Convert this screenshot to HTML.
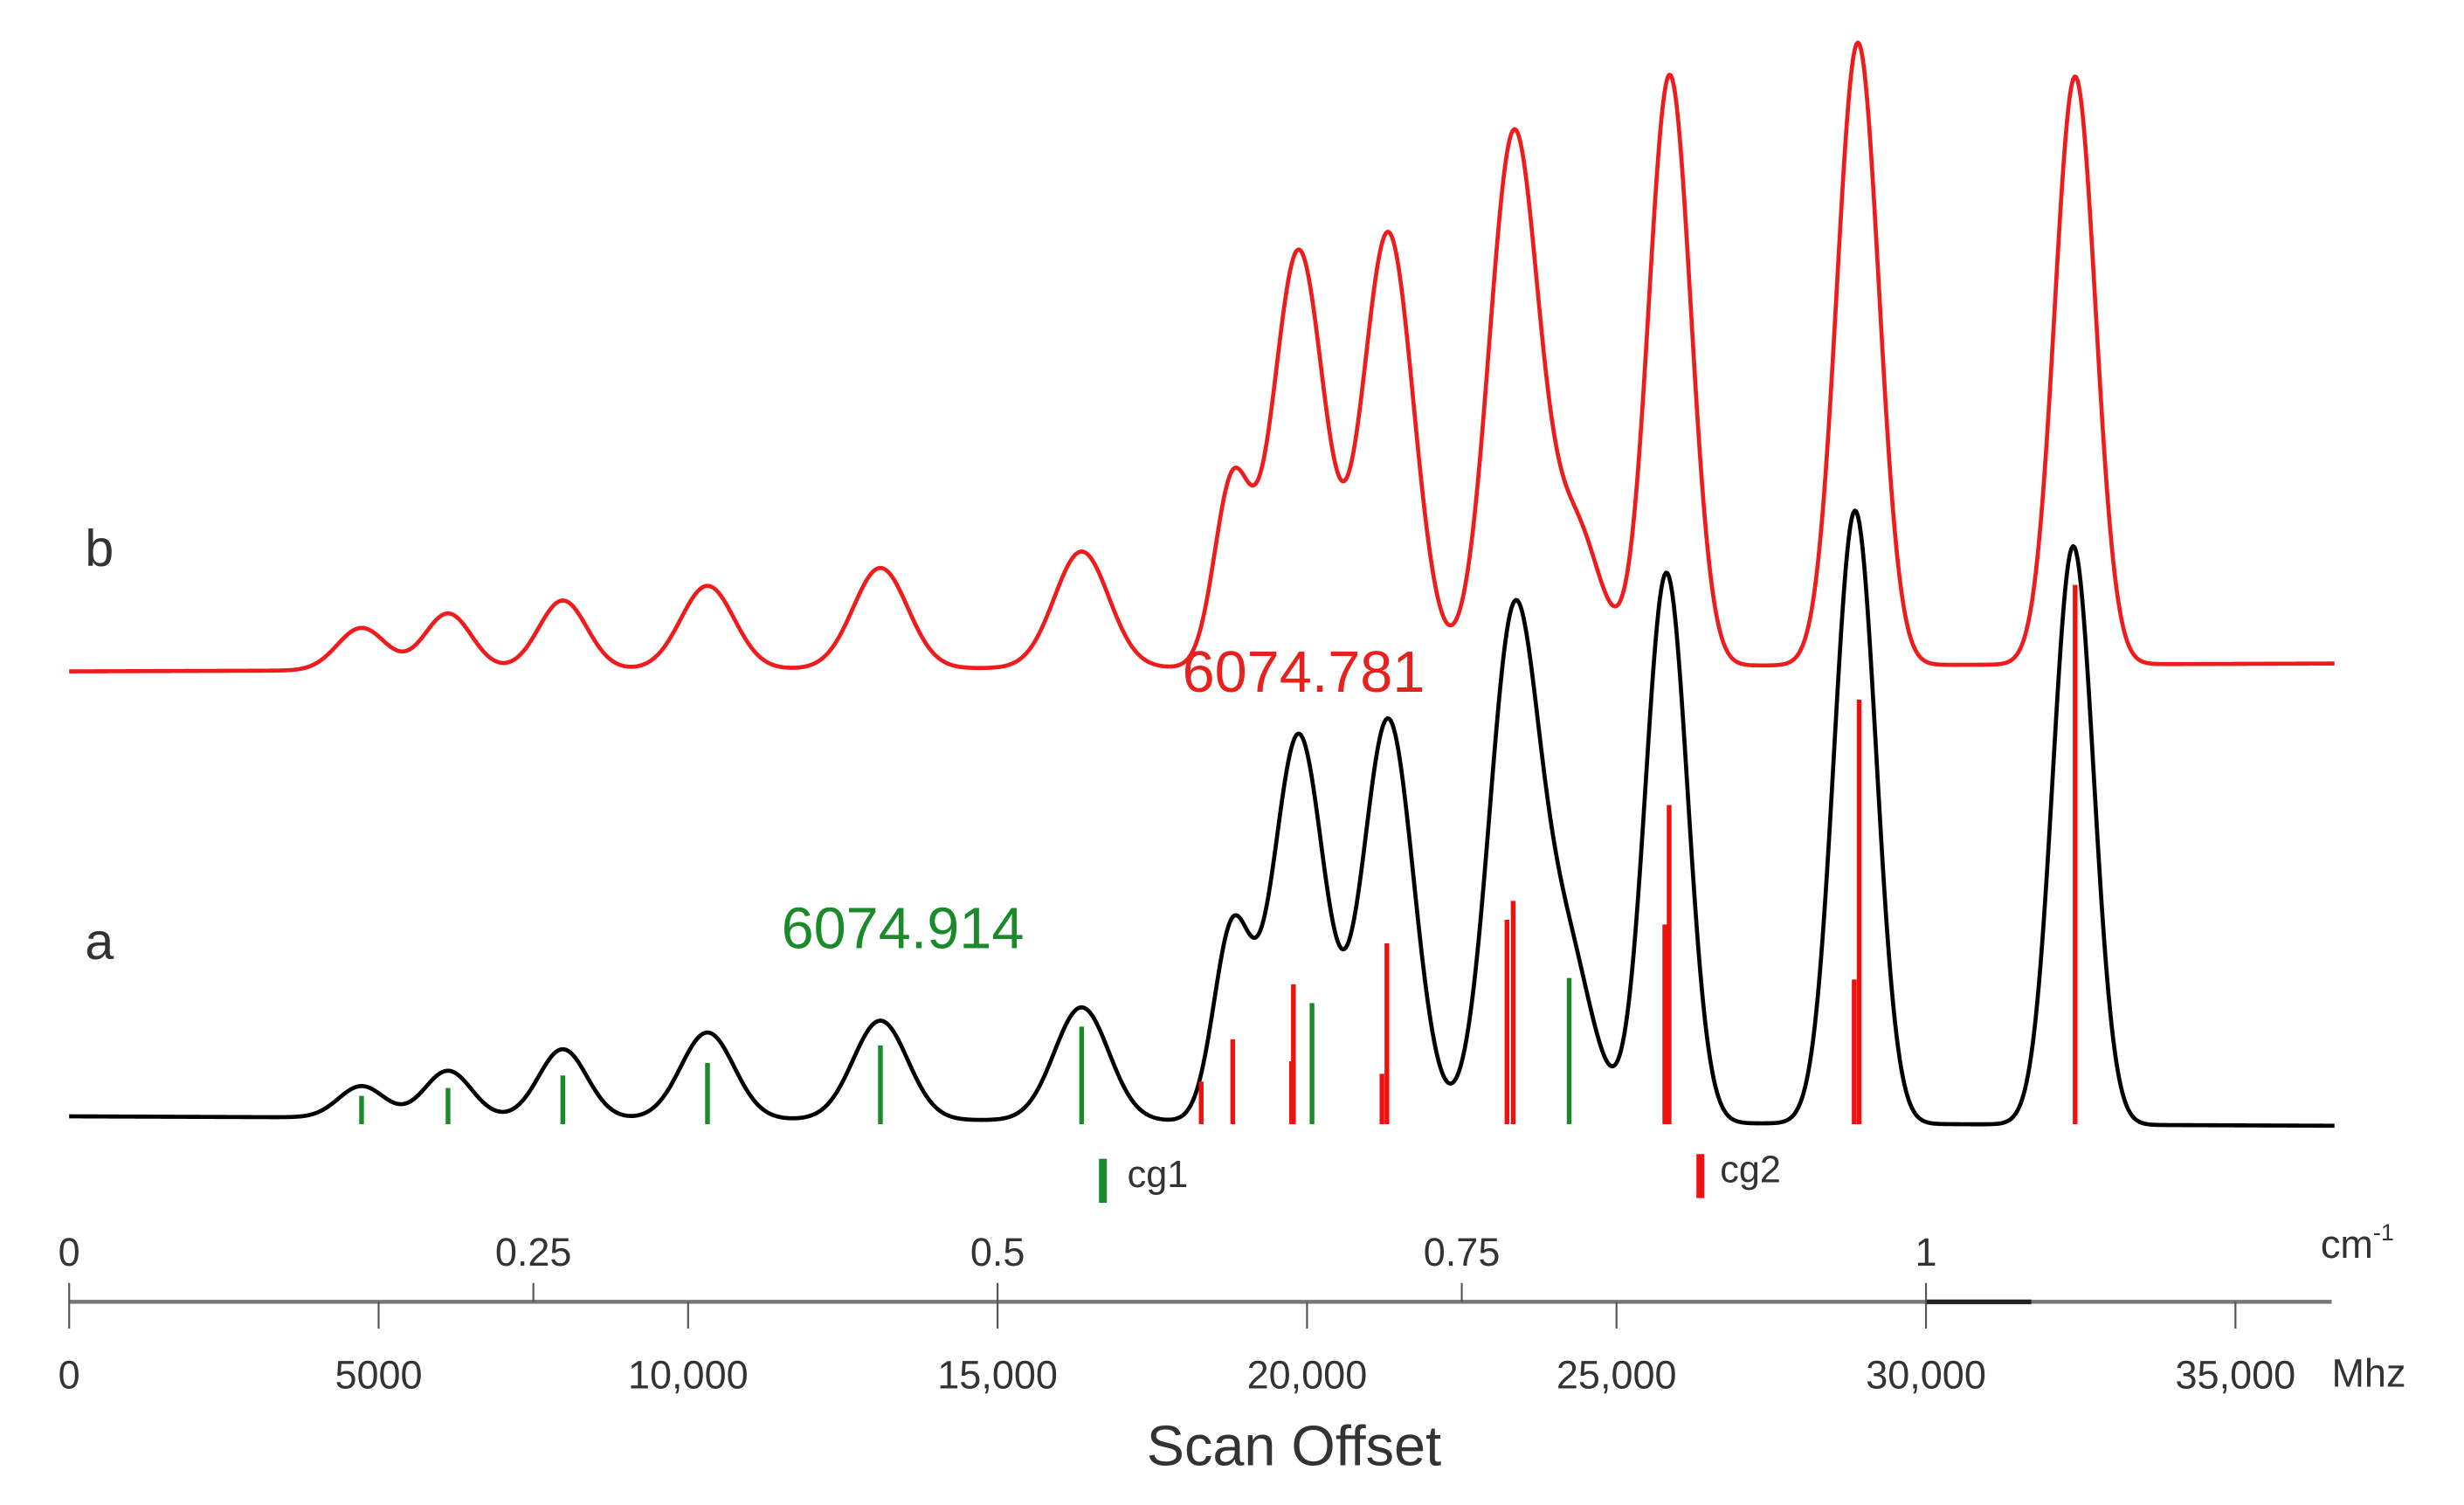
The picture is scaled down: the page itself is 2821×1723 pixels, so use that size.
<!DOCTYPE html>
<html><head><meta charset="utf-8">
<style>
html,body{margin:0;padding:0;background:#fff;}
svg{display:block;}
text{font-family:"Liberation Sans",Arial,sans-serif;}
</style></head>
<body>
<svg id="chart" width="2821" height="1723" viewBox="0 0 1567.2 957.2" xmlns="http://www.w3.org/2000/svg">
<rect width="1568" height="958" fill="#fff"/>
<g id="traces"></g>
<g id="sticks"></g>
<g id="axis"></g>
<text x="54" y="360" font-size="33" fill="#333">b</text>
<text x="54" y="610" font-size="33" fill="#333">a</text>
<text x="752" y="440" font-size="37" fill="#e8211d">6074.781</text>
<text x="497" y="603" font-size="37" fill="#1a8a2a">6074.914</text>
<rect x="699" y="737" width="5" height="28" fill="#1a8a2a"/>
<text x="717" y="755" font-size="24" fill="#333">cg1</text>
<rect x="1079" y="734" width="5" height="28" fill="#f01010"/>
<text x="1094" y="752" font-size="24" fill="#333">cg2</text>
<text x="823" y="932" font-size="36" fill="#333" text-anchor="middle">Scan Offset</text>
<text x="1476" y="800" font-size="25" fill="#333">cm<tspan dy="-11" font-size="15">-1</tspan></text>
<text x="1483" y="882" font-size="25" fill="#333">Mhz</text>
</svg>
<script>
// data (MHz offsets, intensities in arbitrary units)
const peakCentersB = [4724,6121,7976,10313,13107,16358,18790,19863,21311,23343,24350,25860,28900,32410];
const peakHeightsB = [27,36,44,53,64,74,115,265,276,338,85,376,396,374];
const peakWidthsB  = [390,380,390,430,440,440,290,420,410,400,400,340,340,330];
const baseB = [427,422];

const peakCentersA = [4724,6121,7976,10313,13107,16358,18790,19863,21311,23343,24200,25807,28855,32380];
const peakHeightsA = [20,30,44,55,63,72,120,246,256,318,105,350,390,368];
const peakWidthsA  = [370,380,390,430,440,440,300,420,410,400,420,340,340,330];
const baseA = [710,716];

const greenPos = [4724,6121,7976,10313,13107,16358,20080,24235];
const greenVal = [18,23,31,39,50,62,77,93];
const redPos = [18290,18800,19780,21290,23330,25850,28920,32410];
const redVal = [27,54,89,115,142,203,270,343];
const redPos2 = [19750,21210,23230,25780,28840];
const redVal2 = [40,32,130,127,92];

const mhzTicks = [0,5000,10000,15000,20000,25000,30000,35000];
const mhzLabels = ["0","5000","10,000","15,000","20,000","25,000","30,000","35,000"];
const cmTicks = [0,0.25,0.5,0.75,1];
const cmLabels = ["0","0.25","0.5","0.75","1"];

const X0=44, PXPERMHZ=(1225-44)/30000, XMAX=36600;
const xs = m => X0 + m*PXPERMHZ;
const xcm = c => xs(c*30000);
const NS="http://www.w3.org/2000/svg";

function curve(cs,hs,ws,base,color,name){
  let d="";
  for(let m=0;m<=XMAX;m+=25){
    let v=0;
    for(let i=0;i<cs.length;i++){const z=(m-cs[i])/ws[i];v+=hs[i]*Math.exp(-0.5*z*z);}
    const b=base[0]+(base[1]-base[0])*m/XMAX;
    d+=(m?"L":"M")+xs(m).toFixed(2)+","+(b-v).toFixed(2);
  }
  const p=document.createElementNS(NS,"path");
  p.setAttribute("d",d);p.setAttribute("fill","none");p.setAttribute("stroke",color);
  p.setAttribute("stroke-width","2.6");p.setAttribute("stroke-linejoin","round");
  
  
  document.getElementById("traces").appendChild(p);
}
curve(peakCentersB,peakHeightsB,peakWidthsB,baseB,"#ee1c1c","trace-b-simulated");
curve(peakCentersA,peakHeightsA,peakWidthsA,baseA,"#000","trace-a-observed");

function sticks(pos,val,color,name,w){
  const g=document.getElementById("sticks");
  for(let i=0;i<pos.length;i++){
    const l=document.createElementNS(NS,"line");
    l.setAttribute("x1",xs(pos[i]));l.setAttribute("x2",xs(pos[i]));
    l.setAttribute("y1",715);l.setAttribute("y2",715-val[i]);
    l.setAttribute("stroke",color);l.setAttribute("stroke-width",w);
    
    
    g.appendChild(l);
  }
}
sticks(greenPos,greenVal,"#1a8a2a","cg1-stick",3);
sticks(redPos,redVal,"#f01010","cg2-stick",3);
sticks(redPos2,redVal2,"#f01010","cg2-stick-secondary",3);

const ax=document.getElementById("axis");
function el(tag,attrs){const e=document.createElementNS(NS,tag);for(const k in attrs)e.setAttribute(k,attrs[k]);ax.appendChild(e);return e;}
const axLine=el("line",{x1:44,x2:1483,y1:828,y2:828,stroke:"#777","stroke-width":2.5});


const seg=el("line",{x1:1225,x2:1292,y1:828,y2:828,stroke:"#222","stroke-width":3});


cmTicks.forEach((c,i)=>{
  const t=el("line",{x1:xcm(c),x2:xcm(c),y1:816,y2:828,stroke:"#555","stroke-width":1.2});
  
  
  const lb=el("text",{x:xcm(c),y:805,"font-size":25,fill:"#333","text-anchor":"middle"});
  lb.textContent=cmLabels[i];
  
  
});
mhzTicks.forEach((m,i)=>{
  const t=el("line",{x1:xs(m),x2:xs(m),y1:828,y2:845,stroke:"#555","stroke-width":1.2});
  
  
  const lb=el("text",{x:xs(m),y:883,"font-size":25,fill:"#333","text-anchor":"middle"});
  lb.textContent=mhzLabels[i];
  
  
});
</script>
</body></html>
